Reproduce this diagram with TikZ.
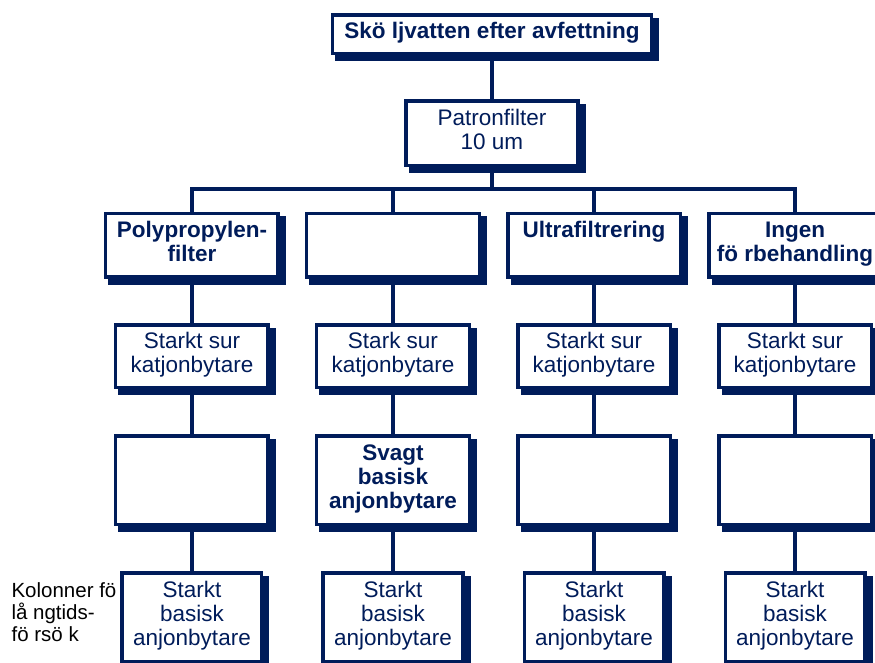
\documentclass[tikz,border=0pt]{standalone}
\usepackage{fontspec}
\setmainfont{Liberation Sans}
\usetikzlibrary{shadows,calc}
\definecolor{navy}{RGB}{0,28,90}

\begin{document}
\begin{tikzpicture}[node distance=112pt,
    box node/.style={rectangle, draw=navy, line width=3.5pt, fill=white, text=navy, align=center, inner sep=2pt, font=\fontsize{22.5}{24}\selectfont, execute at end node=\strut, drop shadow={shadow xshift=5.25pt, shadow yshift=-5.25pt, fill=navy, draw=navy, line width=5pt, opacity=1}},
    bold node/.style={box node, font=\fontsize{22.5}{24}\selectfont\bfseries},
    bus/.style={to path={(\tikztostart) |- ($(\tikztostart)!0.5!(\tikztotarget)$) -| (\tikztotarget)}}]
            \useasboundingbox (-492pt,-628pt) rectangle (383pt,34pt);
            \clip (-492pt,-628pt) rectangle (383pt,34pt);

            \node [bold node, minimum width=318.5, minimum height=38.5](1) at (0,0) {Skö ljvatten efter avfettning};
            \node [box node, minimum width=171.5, minimum height=64.5](2) [below of=1, yshift=13]{Patronfilter\\10 um};

            \node [bold node, minimum width=172.5, minimum height=63.5](3) [below of=2, xshift=-300]{Polypropylen-\\filter};
            \node [bold node, minimum width=172.5, minimum height=63.5](4) [right of=3, xshift=89]{};
            \node [bold node, minimum width=172.5, minimum height=63.5](5) [right of=4, xshift=89]{Ultrafiltrering\\};
            \node [bold node, minimum width=172.5, minimum height=63.5](6) [right of=5, xshift=89]{Ingen\\fö rbehandling};

            \node [box node, minimum width=152.5, minimum height=62.5](7) [below of=3, yshift=1]{Starkt sur\\katjonbytare};
            \node [box node, minimum width=152.5, minimum height=62.5](8) [below of=4, yshift=1]{Stark sur\\katjonbytare};
            \node [box node, minimum width=152.5, minimum height=62.5](9) [below of=5, yshift=1]{Starkt sur\\katjonbytare};
            \node [box node, minimum width=152.5, minimum height=62.5](10) [below of=6, yshift=1]{Starkt sur\\katjonbytare};

            \node [box node, minimum width=152.5, minimum height=88.5](11) [below of=7, yshift=-12]{};
            \node [bold node, minimum width=152.5, minimum height=88.5](12) [below of=8, yshift=-12]{Svagt\\basisk\\anjonbytare};
            \node [box node, minimum width=152.5, minimum height=88.5](13) [below of=9, yshift=-12]{};
            \node [box node, minimum width=152.5, minimum height=88.5](14) [below of=10, yshift=-12]{};

            \node [box node, minimum width=139.5, minimum height=88.5](15) [below of=11, yshift=-25]{Starkt\\basisk\\anjonbytare};
            \node [box node, minimum width=139.5, minimum height=88.5](16) [below of=12, yshift=-25]{Starkt\\basisk\\anjonbytare};
            \node [box node, minimum width=139.5, minimum height=88.5](17) [below of=13, yshift=-25]{Starkt\\basisk\\anjonbytare};
            \node [box node, minimum width=139.5, minimum height=88.5](18) [below of=14, yshift=-25]{Starkt\\basisk\\anjonbytare};

            \node [font=\fontsize{20.5}{22}\selectfont, align=left, inner sep=0pt](19) [left of=15, xshift=-16, yshift=5]{Kolonner fö\\lå ngtids-\\fö rsö k};

            \path[navy, line width=4pt]
                (1) edge (2)

                (2) edge[bus] (3)
                (2) edge[bus] (4)
                (2) edge[bus] (5)
                (2) edge[bus] (6)

                (3) edge (7)
                (4) edge (8)
                (5) edge (9)
                (6) edge (10)

                (7) edge (11)
                (8) edge (12)
                (9) edge (13)
                (10) edge (14)

                (11) edge (15)
                (12) edge (16)
                (13) edge (17)
                (14) edge (18)
                ;
        \end{tikzpicture}
\end{document}
